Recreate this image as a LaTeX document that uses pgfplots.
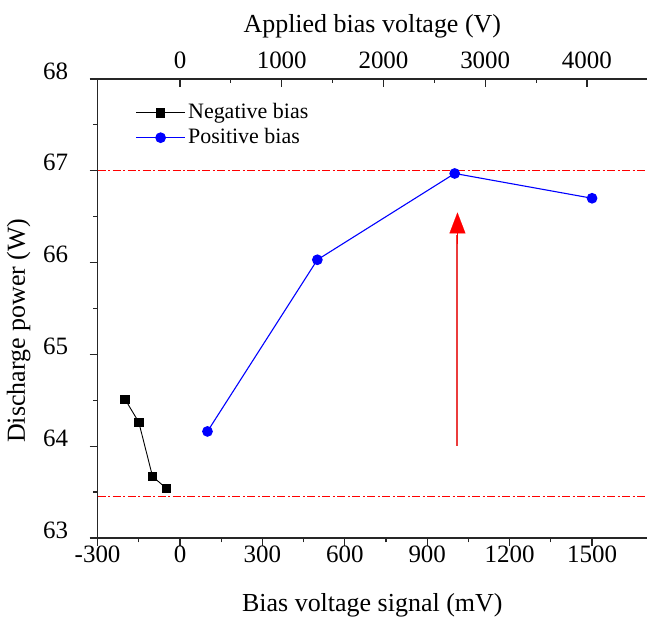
\documentclass[border=0pt]{standalone}
\usepackage{fontspec}
\setmainfont{Liberation Serif}
\usepackage{pgfplots}
\pgfplotsset{compat=1.18}
\usetikzlibrary{arrows.meta}
\definecolor{arrowred}{RGB}{235,60,60}
\begin{document}
\begin{tikzpicture}
\pgfplotsset{
  /pgf/number format/assume math mode=true,
  /pgf/number format/1000 sep={},
}
\begin{axis}[
  name=ax,
  scale only axis,
  width=550bp, height=459.5bp,
  xmin=-300, xmax=1700, ymin=63, ymax=68,
  axis x line*=bottom, axis y line*=left,
  axis line style={line width=1.2bp, black!85},
  xtick={-300,0,300,600,900,1200,1500},
  ytick={63,64,65,66,67,68},
  minor x tick num=1, minor y tick num=1,
  scaled ticks=false,
  tick align=outside,
  tick style={line width=1.2bp, black!85},
  major tick length=8bp, minor tick length=4.5bp,
  tick label style={font=\fontsize{25bp}{29bp}\selectfont},
  xticklabel style={anchor=base, yshift=-16.5bp},
  yticklabel style={anchor=east, xshift=-18bp, yshift=8bp},
  xlabel={Bias voltage signal (mV)},
  ylabel={Discharge power (W)},
  label style={font=\fontsize{26bp}{30bp}\selectfont},
  xlabel style={at={(axis description cs:0.5,0)}, anchor=base, yshift=-74bp},
  ylabel style={at={(axis description cs:-0.1322,0.4516)}, anchor=base},
  clip=false,
  legend style={draw=none, fill=none, at={(axis description cs:0.0688,0.954)}, anchor=north west,
    font=\fontsize{22bp}{26bp}\selectfont, row sep=0bp, inner sep=0bp,
    nodes={inner xsep=2.5bp, inner ysep=2bp, text height=16bp, text depth=5bp}},
  legend cell align=left,
  legend image code/.code={\draw[mark repeat=2,mark phase=2] plot coordinates {(0bp,0bp) (24.5bp,0bp) (49bp,0bp)};},
]
\addplot[black, line width=0.9bp, mark=square*, mark size=4.3bp, mark options={solid}]
  coordinates {(-200,64.51) (-150,64.26) (-100,63.67) (-50,63.54)};
\addlegendentry{Negative bias}
\addplot[blue, line width=1.1bp, mark=*, mark size=4.8bp, mark options={solid}]
  coordinates {(100,64.16) (500,66.03) (1000,66.97) (1500,66.70)};
\addlegendentry{Positive bias}
\addplot[red, line width=1.2bp, dash pattern=on 8bp off 2.5bp on 2bp off 2.5bp, forget plot]
  coordinates {(-300,67) (1700,67)};
\addplot[red, line width=1.2bp, dash pattern=on 8bp off 2.5bp on 2bp off 2.5bp, forget plot]
  coordinates {(-300,63.455) (1700,63.455)};
\fill[arrowred] ([xshift=-1bp]axis cs:1010,64.0) rectangle ([xshift=1bp]axis cs:1010,66.3);
\draw[red, line width=0.1bp, -{Triangle[length=21bp,width=16bp]}]
  (axis cs:1010,66.2) -- (axis cs:1010,66.545);
\end{axis}
\begin{axis}[
  scale only axis,
  width=550bp, height=459.5bp,
  xmin=-810, xmax=4590, ymin=63, ymax=68,
  axis x line*=top,
  hide y axis,
  axis line style={line width=1.2bp, black!85},
  xtick={0,1000,2000,3000,4000},
  minor x tick num=1,
  scaled ticks=false,
  tick align=inside,
  tick style={line width=1.2bp, black!85},
  major tick length=8bp, minor tick length=4.5bp,
  tick label style={font=\fontsize{25bp}{29bp}\selectfont},
  xticklabel style={anchor=base, yshift=10.9bp},
  xlabel={Applied bias voltage (V)},
  label style={font=\fontsize{26bp}{30bp}\selectfont},
  xlabel style={at={(axis description cs:0.5,1)}, anchor=base, yshift=46.3bp},
]
\addplot[draw=none, forget plot] coordinates {(0,63)};
\end{axis}
\pgfresetboundingbox
\path ([xshift=-97.7bp,yshift=-85.5bp]ax.south west) rectangle ([yshift=79bp]ax.north east);
\end{tikzpicture}
\end{document}
